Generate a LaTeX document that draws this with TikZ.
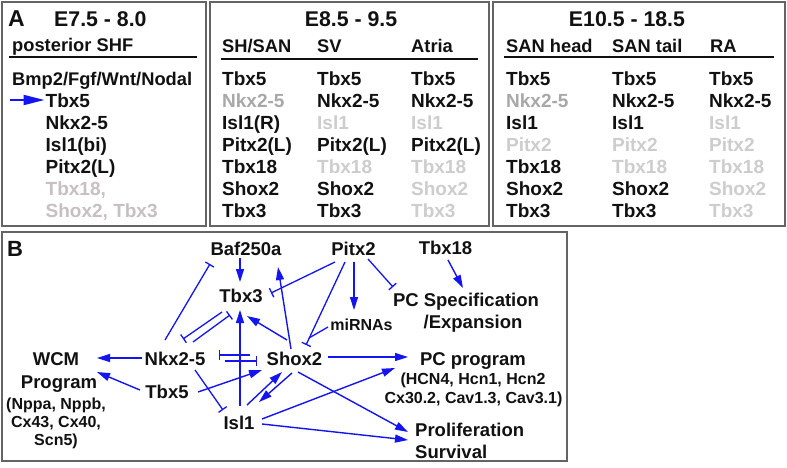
\documentclass[tikz,border=0pt]{standalone}
\usepackage{fontspec}
\setmainfont{Liberation Sans}
\usetikzlibrary{arrows.meta,calc}
\definecolor{gA}{RGB}{168,168,168}
\definecolor{gB}{RGB}{205,205,205}
\definecolor{gP}{RGB}{200,192,192}
\definecolor{ink}{RGB}{17,17,17}
\definecolor{arr}{RGB}{20,20,240}
\definecolor{frame}{RGB}{100,100,100}
\begin{document}
\begin{tikzpicture}[x=1pt,y=-1pt,
  row/.style={inner sep=0pt, anchor=base west, text=ink, font=\fontsize{19}{22}\selectfont\bfseries},
  hdr/.style={inner sep=0pt, anchor=base, text=ink, font=\fontsize{21.3}{24}\selectfont\bfseries},
  colh/.style={inner sep=0pt, anchor=base west, text=ink, font=\fontsize{18.3}{22}\selectfont\bfseries},
  gene/.style={inner sep=0pt, anchor=base, text=ink, font=\fontsize{18.5}{22}\selectfont\bfseries},
  sub/.style={inner sep=0pt, anchor=base, text=ink, font=\fontsize{16}{18}\selectfont\bfseries},
  panel/.style={draw=frame, line width=1.2pt},
  rulel/.style={draw=ink, line width=1.3pt},
  act/.style={draw=arr, line width=1.4pt, -{Triangle[length=13pt,width=8pt]}},
  inh/.style={draw=arr, line width=1.3pt, -{Bar[width=10pt]}},
  plain/.style={draw=arr, line width=1.3pt}
]
\useasboundingbox (0,0) rectangle (787,467);
\fill[white] (0,0) rectangle (787,467);

% panels
\draw[panel] (2,2) rectangle (206,226);
\draw[panel] (210,2) rectangle (489,226);
\draw[panel] (493,2) rectangle (785,226);
\draw[panel] (2,232) rectangle (567,461);

% ---------- Panel A, block 1
\node[hdr, anchor=base west] (pA) at (8,26) {\fontsize{23}{24}\selectfont A};
\node[hdr, anchor=base west] (e1) at (54,26) {E7.5 - 8.0};
\node[colh] (shf) at (12,51) {posterior SHF};
\draw[rulel] (9,57) -- (197,57);
\node[colh] (bmp) at (12,85) {Bmp2/Fgf/Wnt/Nodal};
\node[row] (a1) at (45.5,107) {Tbx5};
\node[row] (a2) at (45.5,129) {Nkx2-5};
\node[row] (a3) at (45.5,151) {Isl1(bi)};
\node[row] (a4) at (45.5,173) {Pitx2(L)};
\node[row, text=gP] (a5) at (45.5,195) {Tbx18,};
\node[row, text=gP] (a6) at (45.5,217) {Shox2, Tbx3};
\coordinate (aS) at (10,100);
\draw[draw=arr, line width=2pt, -{Triangle[length=21pt,width=10pt]}] (aS) -- ($(a1.base west)+(-1,-7)$);

% ---------- Panel A, block 2
\node[hdr] (e2) at (351,26) {E8.5 - 9.5};
\node[colh] (h21) at (222,52) {SH/SAN};
\node[colh] (h22) at (317,52) {SV};
\node[colh] (h23) at (411,52) {Atria};
\draw[rulel] (221,59) -- (478,59);
\foreach \t/\c [count=\i from 0] in {Tbx5/ink, Nkx2-5/gA, Isl1(R)/ink, Pitx2(L)/ink, Tbx18/ink, Shox2/ink, Tbx3/ink}
  \node[row, text=\c] (b1r\i) at (222,85+22*\i) {\t};
\foreach \t/\c [count=\i from 0] in {Tbx5/ink, Nkx2-5/ink, Isl1/gB, Pitx2(L)/ink, Tbx18/gB, Shox2/ink, Tbx3/ink}
  \node[row, text=\c] (b2r\i) at (317,85+22*\i) {\t};
\foreach \t/\c [count=\i from 0] in {Tbx5/ink, Nkx2-5/ink, Isl1/gB, Pitx2(L)/ink, Tbx18/gB, Shox2/gB, Tbx3/gB}
  \node[row, text=\c] (b3r\i) at (411,85+22*\i) {\t};

% ---------- Panel A, block 3
\node[hdr] (e3) at (627,26) {E10.5 - 18.5};
\node[colh] (h31) at (506,52) {SAN head};
\node[colh] (h32) at (612,52) {SAN tail};
\node[colh] (h33) at (710,52) {RA};
\draw[rulel] (504,57) -- (774,57);
\foreach \t/\c [count=\i from 0] in {Tbx5/ink, Nkx2-5/gA, Isl1/ink, Pitx2/gB, Tbx18/ink, Shox2/ink, Tbx3/ink}
  \node[row, text=\c] (c1r\i) at (506,85+22*\i) {\t};
\foreach \t/\c [count=\i from 0] in {Tbx5/ink, Nkx2-5/ink, Isl1/ink, Pitx2/gB, Tbx18/gB, Shox2/ink, Tbx3/ink}
  \node[row, text=\c] (c2r\i) at (612,85+22*\i) {\t};
\foreach \t/\c [count=\i from 0] in {Tbx5/ink, Nkx2-5/ink, Isl1/gB, Pitx2/gB, Tbx18/gB, Shox2/gB, Tbx3/gB}
  \node[row, text=\c] (c3r\i) at (709,85+22*\i) {\t};

% ---------- Panel B
\node[hdr, anchor=base west] (pB) at (7,256) {\fontsize{22}{24}\selectfont B};
\node[gene] (baf) at (246,255) {Baf250a};
\node[gene] (pitx) at (353.5,255) {Pitx2};
\node[gene] (tbx18) at (445.5,254) {Tbx18};
\node[gene] (tbx3) at (241,302) {Tbx3};
\node[gene] (pcspec) at (466,306) {PC Specification};
\node[gene] (pcspec2) at (473,328) {/Expansion};
\node[sub] (mirna) at (361.5,330) {miRNAs};
\node[gene] (wcm) at (56,365) {WCM};
\node[gene] (prog) at (59,388) {Program};
\node[sub] (wcm1) at (56,409) {(Nppa, Nppb,};
\node[sub] (wcm2) at (56,427) {Cx43, Cx40,};
\node[sub] (wcm3) at (56,445) {Scn5)};
\node[gene] (nkx) at (175,365) {Nkx2-5};
\node[gene] (tbx5) at (167,398) {Tbx5};
\node[gene] (isl1) at (239,429) {Isl1};
\node[gene] (shox2) at (294.5,365) {Shox2};
\node[gene] (pcprog) at (473,365) {PC program};
\node[sub] (pc1) at (473,384) {(HCN4, Hcn1, Hcn2};
\node[sub] (pc2) at (473.5,403) {Cx30.2, Cav1.3, Cav3.1)};
\node[gene, anchor=base west] (prolif) at (415,436) {Proliferation};
\node[gene, anchor=base west] (surv) at (415,458) {Survival};

% connectors
\draw[act] ($(nkx.base)+(-33,-7)$) -- ($(wcm.base)+(41,-7)$);
\draw[act] ($(tbx5.base)+(-27,-8)$) -- ($(prog.base)+(38,-16)$);
\draw[inh] ($(nkx.base)+(-10,-25)$) -- ($(baf.base)+(-36,9)$);
\draw[inh] ($(tbx3.base)+(-19,10)$) -- ($(nkx.base)+(8,-26)$);
\draw[inh] ($(nkx.base)+(18,-23)$) -- ($(tbx3.base)+(-11,13)$);
\draw[inh] ($(shox2.base)+(-44.5,-10)$) -- ($(nkx.base)+(44,-10)$);
\draw[inh] ($(nkx.base)+(50,-4)$) -- ($(shox2.base)+(-37.5,-4)$);
\draw[inh] ($(nkx.base)+(20,5)$) -- ($(isl1.base)+(-16,-19)$);
\draw[act] ($(tbx5.base)+(31,-6)$) -- ($(shox2.base)+(-32.5,5)$);
\draw[act] ($(isl1.base)+(1,-23)$) -- ($(tbx3.base)+(-1,8)$);
\draw[act] ($(isl1.base)+(8,-24)$) -- ($(shox2.base)+(-12.5,7)$);
\draw[act] ($(shox2.base)+(-2.5,8)$) -- ($(isl1.base)+(20,-27)$);
\draw[act] ($(shox2.base)+(-7.5,-25)$) -- ($(tbx3.base)+(6,14)$);
\draw[act] ($(shox2.base)+(-3.5,-16)$) -- ($(baf.base)+(32,12)$);
\draw[act] ($(baf.base)+(-6,3)$) -- ($(tbx3.base)+(-1,-20)$);
\draw[inh] ($(pitx.base)+(-18.5,7)$) -- ($(tbx3.base)+(30,-9)$);
\draw[inh] ($(pitx.base)+(-8.5,7)$) -- ($(shox2.base)+(11.5,-20)$);
\draw[plain] ($(mirna.base)+(-33.5,-3)$) -- ($(shox2.base)+(14.5,-27)$);
\draw[act] ($(pitx.base)+(0.5,7)$) -- ($(mirna.base)+(-7.5,-20)$);
\draw[inh] ($(pitx.base)+(14.5,4)$) -- ($(pcspec.base)+(-73,-19)$);
\draw[act] ($(tbx18.base)+(2.5,6)$) -- ($(pcspec.base)+(-3,-18)$);
\draw[act] ($(shox2.base)+(33.5,-8)$) -- ($(pcprog.base)+(-65,-8)$);
\draw[act] ($(isl1.base)+(23,-10)$) -- ($(pcprog.base)+(-78,3)$);
\draw[act] ($(shox2.base)+(3.5,7)$) -- ($(prolif.base west)+(-7,-4)$);
\draw[act] ($(isl1.base)+(23,-5)$) -- ($(prolif.base west)+(-7,4)$);
\end{tikzpicture}
\end{document}
